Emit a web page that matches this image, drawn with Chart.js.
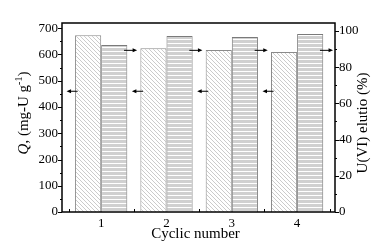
<!DOCTYPE html>
<html>
<head>
<meta charset="utf-8">
<script src="https://cdn.jsdelivr.net/npm/chart.js@4.4.1/dist/chart.umd.min.js"></script>
<style>
  body { margin: 0; background: #fff; }
  #wrap { width: 382px; height: 248px; }
</style>
</head>
<body>
<div id="wrap"><canvas id="cycleChart" width="382" height="248"></canvas></div>
<script>
// data
const cycles = [1, 2, 3, 4];
const capacity = [673, 624, 617, 610];       // Q, mg-U/g (left axis)
const elution = [92.3, 97.2, 96.7, 98.3];     // U(VI) elution % (right axis)
const qTicks = [0, 100, 200, 300, 400, 500, 600, 700];
const eTicks = [0, 20, 40, 60, 80, 100];
// arrows that tell which axis each bar set belongs to
const leftArrowY = 460;   // on Q axis
const rightArrowY = 89.3; // on elution axis

const serif = "'Liberation Serif', 'DejaVu Serif', serif";

function hatchPattern() {
  const c = document.createElement('canvas');
  c.width = 4; c.height = 4;
  const g = c.getContext('2d');
  g.fillStyle = '#fff';
  g.fillRect(0, 0, 4, 4);
  g.strokeStyle = '#b4b4b4';
  g.lineWidth = 0.7;
  g.beginPath();
  g.moveTo(-1, -1); g.lineTo(5, 5);
  g.moveTo(-1, 3); g.lineTo(1, 5);
  g.moveTo(3, -1); g.lineTo(5, 1);
  g.stroke();
  return g.createPattern(c, 'repeat');
}

function stripePattern() {
  const c = document.createElement('canvas');
  c.width = 4; c.height = 4;
  const g = c.getContext('2d');
  g.fillStyle = '#d0d0d0';
  g.fillRect(0, 0, 4, 3);
  g.fillStyle = '#fff';
  g.fillRect(0, 3, 4, 1);
  return g.createPattern(c, 'repeat');
}

function arrow(ctx, x0, x1, y) {
  // tail at x0, tip at x1
  const dir = Math.sign(x1 - x0);
  ctx.beginPath();
  ctx.moveTo(x0, y);
  ctx.lineTo(x1 - dir * 3, y);
  ctx.stroke();
  ctx.beginPath();
  ctx.moveTo(x1, y);
  ctx.lineTo(x1 - dir * 4.5, y - 2);
  ctx.lineTo(x1 - dir * 4.5, y + 2);
  ctx.closePath();
  ctx.fill();
}

const decor = {
  id: 'decor',
  afterDraw(chart) {
    const ctx = chart.ctx;
    const a = chart.chartArea;
    const xs = chart.scales.x, yq = chart.scales.yQ, ye = chart.scales.yE;
    ctx.save();
    ctx.strokeStyle = '#000';
    ctx.fillStyle = '#000';

    // frame
    ctx.lineWidth = 1.5;
    ctx.strokeRect(a.left, a.top, a.right - a.left, a.bottom - a.top);

    // y ticks (outside), minor ones shorter
    ctx.lineWidth = 1;
    ctx.beginPath();
    for (let v = 0; v <= 700; v += 50) {
      const y = Math.round(yq.getPixelForValue(v)) + 0.5;
      const len = v % 100 === 0 ? 4 : 2;
      ctx.moveTo(a.left - len, y); ctx.lineTo(a.left, y);
    }
    for (let v = 0; v <= 100; v += 10) {
      const y = Math.round(ye.getPixelForValue(v)) + 0.5;
      const len = v % 20 === 0 ? 4 : 2;
      ctx.moveTo(a.right, y); ctx.lineTo(a.right + len, y);
    }
    // x minor ticks (inside)
    for (let v = 0.5; v < xs.max; v += 1) {
      const x = Math.round(xs.getPixelForValue(v)) + 0.5;
      ctx.moveTo(x, a.bottom); ctx.lineTo(x, a.bottom - 3);
    }
    ctx.stroke();

    // arrows
    ctx.lineWidth = 1;
    cycles.forEach(c => {
      const yl = yq.getPixelForValue(leftArrowY);
      arrow(ctx, xs.getPixelForValue(c - 0.36), xs.getPixelForValue(c - 0.53), yl);
      const yr = ye.getPixelForValue(rightArrowY);
      arrow(ctx, xs.getPixelForValue(c + 0.35), xs.getPixelForValue(c + 0.55), yr);
    });

    // x title
    ctx.font = '15px ' + serif;
    ctx.textAlign = 'center';
    ctx.textBaseline = 'middle';
    ctx.fillText('Cyclic number', (a.left + a.right) / 2 - 3, 234);

    // left title: Q, (mg-U g-1) with italic Q and superscript
    const parts = [
      { t: 'Q', f: 'italic 15px ' + serif, dy: 0 },
      { t: ', (mg-U g', f: '15px ' + serif, dy: 0 },
      { t: '-1', f: '10px ' + serif, dy: -5 },
      { t: ')', f: '15px ' + serif, dy: 0 }
    ];
    let w = 0;
    parts.forEach(p => { ctx.font = p.f; w += ctx.measureText(p.t).width; });
    ctx.save();
    ctx.translate(24, 113);
    ctx.rotate(-Math.PI / 2);
    ctx.textAlign = 'left';
    ctx.textBaseline = 'middle';
    let x = -w / 2;
    parts.forEach(p => {
      ctx.font = p.f;
      ctx.fillText(p.t, x, p.dy);
      x += ctx.measureText(p.t).width;
    });
    ctx.restore();

    // right title, reads bottom to top
    ctx.save();
    ctx.translate(363, 123);
    ctx.rotate(-Math.PI / 2);
    ctx.font = '15px ' + serif;
    ctx.textAlign = 'center';
    ctx.textBaseline = 'middle';
    ctx.fillText('U(VI) elutio (%)', 0, 0);
    ctx.restore();

    ctx.restore();
  }
};

const tickFont = { family: serif, size: 13 };

new Chart(document.getElementById('cycleChart'), {
  type: 'bar',
  data: {
    datasets: [
      {
        label: 'Q',
        data: cycles.map((c, i) => ({ x: c, y: capacity[i] })),
        yAxisID: 'yQ',
        backgroundColor: hatchPattern(),
        borderColor: '#8a8a8a',
        borderWidth: 1,
        barPercentage: 1,
        categoryPercentage: 0.8
      },
      {
        label: 'U(VI) elution',
        data: cycles.map((c, i) => ({ x: c, y: elution[i] })),
        yAxisID: 'yE',
        backgroundColor: stripePattern(),
        borderColor: '#7a7a7a',
        borderWidth: 1,
        barPercentage: 1,
        categoryPercentage: 0.8
      }
    ]
  },
  options: {
    responsive: false,
    devicePixelRatio: 1,
    animation: false,
    layout: { padding: { top: 23, left: 0, right: 0, bottom: 0 } },
    plugins: { legend: { display: false }, tooltip: { enabled: false } },
    scales: {
      x: {
        type: 'linear',
        min: 0.4,
        max: 4.58,
        offset: false,
        grid: { display: false, drawTicks: false },
        border: { display: false },
        afterBuildTicks: s => { s.ticks = cycles.map(v => ({ value: v })); },
        ticks: { font: tickFont, color: '#000', padding: 4, callback: v => v },
        afterFit: s => { s.height = 36; }
      },
      yQ: {
        position: 'left',
        min: 0,
        max: 720,
        grid: { display: false, drawTicks: false },
        border: { display: false },
        afterBuildTicks: s => { s.ticks = qTicks.map(v => ({ value: v })); },
        ticks: { font: tickFont, color: '#000', padding: 4 },
        afterFit: s => { s.width = 62; }
      },
      yE: {
        position: 'right',
        min: 0,
        max: 104.4,
        grid: { display: false, drawTicks: false },
        border: { display: false },
        afterBuildTicks: s => { s.ticks = eTicks.map(v => ({ value: v })); },
        ticks: { font: tickFont, color: '#000', padding: 4 },
        afterFit: s => { s.width = 47; }
      }
    }
  },
  plugins: [decor]
});
</script>
</body>
</html>
